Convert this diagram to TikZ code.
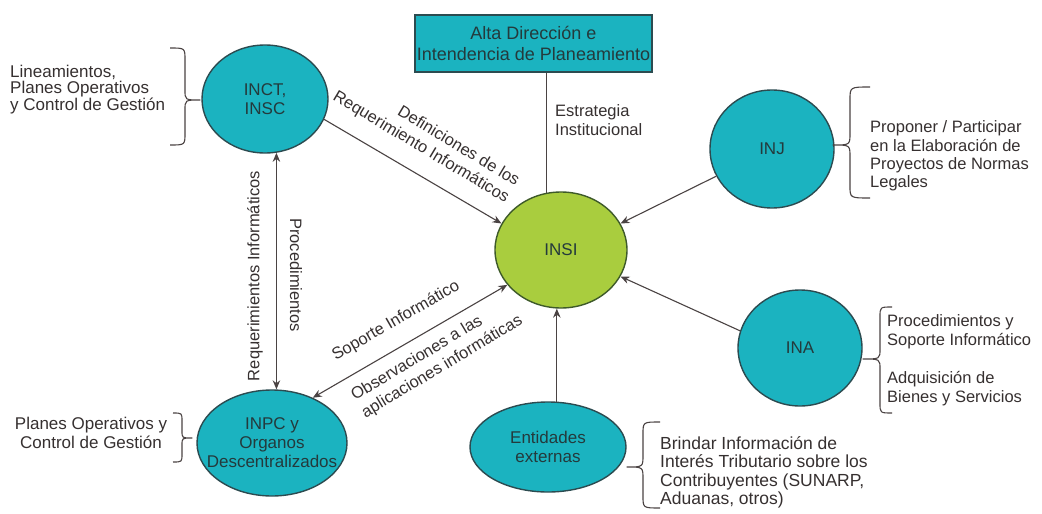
\documentclass[tikz,border=0pt]{standalone}
\usepackage{fontspec}
\setmainfont{Liberation Sans}
\usetikzlibrary{arrows.meta,shapes.geometric}

\definecolor{tealfill}{HTML}{1BB3C0}
\definecolor{limefill}{HTML}{A9CD3E}
\definecolor{rim}{HTML}{2C4B50}
\definecolor{limerim}{HTML}{3E5A2A}
\definecolor{ink}{HTML}{363030}
\definecolor{nodeink}{HTML}{243A3C}
\definecolor{wire}{HTML}{4A4343}

\tikzset{
  txt/.style={font=\fontsize{16.5}{19}\selectfont, text=ink, inner sep=0pt},
  unit/.style n args={3}{ellipse, draw=rim, line width=1.4pt, fill=tealfill,
    minimum width=#1, minimum height=#2, inner sep=0pt,
    label={[font=\fontsize{17}{19}\selectfont, text=nodeink, align=center]center:{#3}}},
  plain/.style={draw=wire, line width=1.1pt},
  arr/.style={plain, -{Stealth[length=9pt,width=7.5pt]}},
  arrboth/.style={plain, {Stealth[length=9pt,width=7.5pt]}-{Stealth[length=9pt,width=7.5pt]}},
  curly/.style={draw=wire, line width=1.1pt, line join=round},
}

\begin{document}
\begin{tikzpicture}[x=1pt,y=-1pt]
\useasboundingbox (0,0) rectangle (1042,514);
\fill[white] (0,0) rectangle (1042,514);

% organisational units
\node[unit={126pt}{108pt}{INCT,\\INSC}] (inct) at (265,99) {};
\node[unit={132pt}{116pt}{INSI}, fill=limefill, draw=limerim] (insi) at (561,250) {};
\node[unit={124pt}{118pt}{INJ}] (inj) at (772,149) {};
\node[unit={124pt}{116pt}{INA}] (ina) at (800,348) {};
\node[unit={150pt}{106pt}{INPC y\\Organos\\Descentralizados}] (inpc) at (272,443) {};
\node[unit={156pt}{90pt}{Entidades\\externas}] (ent) at (548,447) {};
\node[draw=rim, line width=1.4pt, fill=tealfill, minimum width=237pt, minimum height=57pt,
      inner sep=0pt, align=center, font=\fontsize{18}{21}\selectfont, text=nodeink]
      (alta) at (533.5,43.5) {Alta Dirección e\\Intendencia de Planeamiento};

% flows between units
\draw[arr] (inct.-19) -- (insi.156);
\draw[arrboth] (inct.-78) -- (inct.-78 |- inpc.north);
\draw[arrboth] (inpc.48) -- (insi.213);
\draw[arr] (inj.206) -- (insi.24);
\draw[arr] (ina.164) -- (insi.-24);
\draw[arr] (ent.79) -- (ent.79 |- insi.south);
\draw[plain] (insi.104) -- (insi.104 |- alta.south);

% flow labels
\node[txt, rotate=90] (reqlbl) at (255,276) {Requerimientos Informáticos};
\node[txt, rotate=-90] (proclbl) at (296,275) {Procedimientos};
\node[txt, rotate=-31, align=right, font=\fontsize{16.5}{20}\selectfont] (deflbl) at (426,139)
  {Definiciones de los\\Requerimiento Informáticos};
\node[txt, rotate=30] (soplbl) at (396,321) {Soporte Informático};
\node[txt, rotate=31, align=left, anchor=west, font=\fontsize{16.5}{20}\selectfont] (obslbl) at (358,406)
  {Observaciones a las\\aplicaciones informáticas};
\node[txt, anchor=west, align=left] (estr) at (555,120) {Estrategia\\Institucional};

% role descriptions with braces
\node[txt, anchor=west, align=left, font=\fontsize{17}{16}\selectfont] (incttxt) at (10,90)
  {Lineamientos,\\Planes Operativos\\y Control de Gestión};
\draw[curly] (170,48) .. controls (185,48) .. (185,60) -- (185,90)
  .. controls (185,100) .. (200,100) .. controls (185,100) .. (185,110)
  -- (185,133) .. controls (185,145) .. (170,145);

\node[txt, align=center, font=\fontsize{17}{19}\selectfont] (inpctxt) at (91,433)
  {Planes Operativos y\\Control de Gestión};
\draw[curly] (173,413) .. controls (182,413) .. (182,421) -- (182,431)
  .. controls (182,438) .. (192,438) .. controls (182,438) .. (182,445)
  -- (182,454) .. controls (182,462) .. (173,462);

\node[txt, anchor=west, align=left, font=\fontsize{16.5}{18.3}\selectfont] (injtxt) at (870,156)
  {Proponer / Participar\\en la Elaboración de\\Proyectos de Normas\\Legales};
\draw[curly] (870,87) .. controls (850,87) .. (850,100) -- (850,133)
  .. controls (850,145) .. (833,145) .. controls (850,145) .. (850,157)
  -- (850,186) .. controls (850,198) .. (870,198);

\node[txt, anchor=west, align=left] (inatxt) at (887,360)
  {Procedimientos y\\Soporte Informático\\[19pt]Adquisición de\\Bienes y Servicios};
\draw[curly] (892,307) .. controls (880,307) .. (880,317) -- (880,349)
  .. controls (880,359) .. (863,359) .. controls (880,359) .. (880,369)
  -- (880,403) .. controls (880,413) .. (892,413);

\node[txt, anchor=west, align=left, font=\fontsize{17.5}{18.3}\selectfont] (enttxt) at (660,472.5)
  {Brindar Información de\\Interés Tributario sobre los\\Contribuyentes (SUNARP,\\Aduanas, otros)};
\draw[curly] (660,422) .. controls (643,422) .. (643,434) -- (643,455)
  .. controls (643,467) .. (627,467) .. controls (643,467) .. (643,479)
  -- (643,496) .. controls (643,508) .. (660,508);
\end{tikzpicture}
\end{document}
